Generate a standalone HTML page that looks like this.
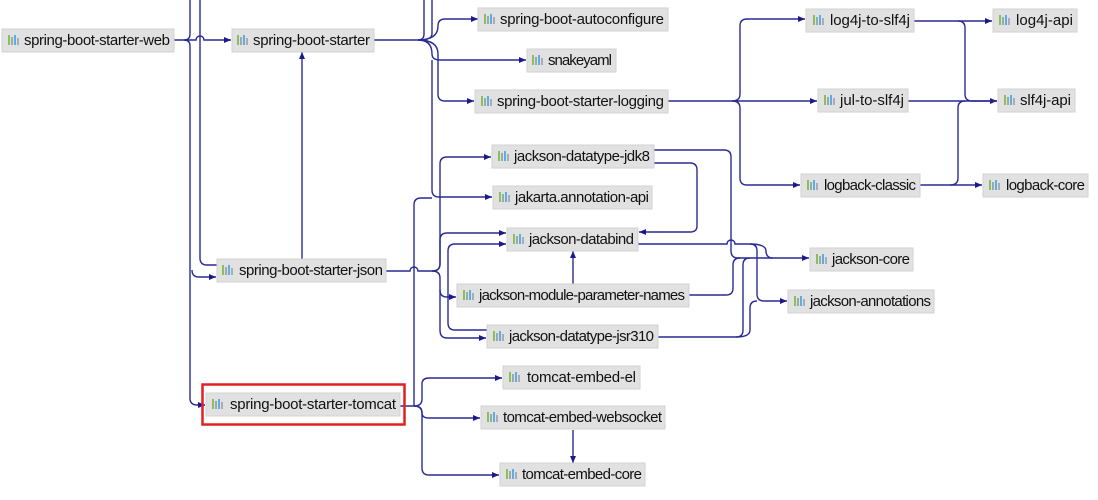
<!DOCTYPE html>
<html><head><meta charset="utf-8"><style>
html,body{margin:0;padding:0;background:#fff;width:1098px;height:500px;overflow:hidden}
text{font-family:"Liberation Sans",sans-serif;font-size:15px;fill:#111}
.e{fill:none;stroke:#2a2a96;stroke-width:1.4}
.b{fill:#e1e1e1;stroke:#d2d2d2;stroke-width:1}
</style></head><body>
<svg width="1098" height="500" xmlns="http://www.w3.org/2000/svg">
<defs>
<marker id="a" markerWidth="8" markerHeight="8" refX="7" refY="4" orient="auto" markerUnits="userSpaceOnUse"><path d="M0,1 L7,4 L0,7 Z" fill="#1a1a8a"/></marker>
<g id="ic"><rect x="0" y="0" width="2" height="10" fill="#8cbf5a"/><rect x="3" y="2" width="2" height="8" fill="#9aa"/><rect x="6" y="0" width="2" height="10" fill="#5aaee0"/><rect x="9" y="3" width="2" height="7" fill="#aab"/></g>
</defs>
<g class="e">
<path d="M174,40 H184 Q190,40 190,34 V0"/>
<path d="M184,40 Q190,40 190,46 V398 Q190,405 197,405 H205" marker-end="url(#a)"/>
<path d="M200,0 V258 Q200,265 207,265 H217"/>
<path d="M184,40 H196 A4,4 0 0 1 204,40 H231" marker-end="url(#a)"/>
<path d="M192,270 Q192,277 199,277 H216" marker-end="url(#a)"/>
<path d="M302,260 V52" marker-end="url(#a)"/>
<path d="M374,40 H418 Q424,40 424,34 V0"/>
<path d="M418,40 Q432,40 432,34 V0"/>
<path d="M418,40 Q438,40 438,26 Q438,19 445,19 H478" marker-end="url(#a)"/>
<path d="M418,40 Q432,40 432,54 Q432,60 440,60 H526" marker-end="url(#a)"/>
<path d="M418,40 Q438,40 438,54 V94 Q438,101 445,101 H474" marker-end="url(#a)"/>
<path d="M432,60 V190 Q432,197 439,197 H492" marker-end="url(#a)"/>
<path d="M668,101 H732 Q740,101 740,94 V26 Q740,19 747,19 H805" marker-end="url(#a)"/>
<path d="M732,101 H817" marker-end="url(#a)"/>
<path d="M732,101 Q740,101 740,108 V178 Q740,185 747,185 H800" marker-end="url(#a)"/>
<path d="M914,21 H992" marker-end="url(#a)"/>
<path d="M958,21 Q965,21 965,28 V94 Q965,101 972,101 H997" marker-end="url(#a)"/>
<path d="M908,101 H997"/>
<path d="M920,185 H982" marker-end="url(#a)"/>
<path d="M950,185 Q958,185 958,178 V108 Q958,101 965,101"/>
<path d="M386,271 H410 A4,4 0 0 1 418,271 H432 Q440,271 440,264 V164 Q440,157 447,157 H491" marker-end="url(#a)"/>
<path d="M432,271 Q440,271 440,264 V240 Q440,233 447,233 H506" marker-end="url(#a)"/>
<path d="M432,271 Q440,271 440,278 V290 Q440,297 447,297 H456" marker-end="url(#a)"/>
<path d="M440,290 V330 Q440,338 447,338 H486" marker-end="url(#a)"/>
<path d="M400,406 H414 Q422,406 422,399 V384 Q422,378 429,378 H502" marker-end="url(#a)"/>
<path d="M414,406 Q422,406 422,413 Q422,418 429,418 H480" marker-end="url(#a)"/>
<path d="M414,406 Q422,406 422,413 V468 Q422,475 429,475 H499" marker-end="url(#a)"/>
<path d="M414,406 V205 Q414,198 421,198 H432"/>
<path d="M573,430 V463" marker-end="url(#a)"/>
<path d="M573,285 V251" marker-end="url(#a)"/>
<path d="M487,330 H455 Q448,330 448,323 V251 Q448,244 455,244 H506" marker-end="url(#a)"/>
<path d="M654,163 H690 Q697,163 697,170 V226 Q697,232 690,232 H639" marker-end="url(#a)"/>
<path d="M654,150 H724 Q731,150 731,157 V251 Q731,258 738,258 H809" marker-end="url(#a)"/>
<path d="M638,244 H727 A4,4 0 0 1 735,244 H750 Q757,244 757,251 V294 Q757,301 764,301 H787" marker-end="url(#a)"/>
<path d="M750,244 Q766,244 766,251 Q766,258 773,258"/>
<path d="M689,295 H726 Q733,295 733,288 V265 Q733,258 740,258"/>
<path d="M658,337 H736 Q743,337 743,330 V265 Q743,258 750,258"/>
<path d="M736,337 Q750,337 750,330 V308 Q750,301 757,301"/>
</g>
<g>
<rect class="b" x="2" y="29" width="172" height="23"/><use href="#ic" x="8" y="35"/><text x="24" y="45" textLength="146">spring-boot-starter-web</text>
<rect class="b" x="232" y="29" width="142" height="23"/><use href="#ic" x="237" y="35"/><text x="253" y="45" textLength="117">spring-boot-starter</text>
<rect class="b" x="478" y="8" width="190" height="23"/><use href="#ic" x="484" y="14"/><text x="500" y="24" textLength="164">spring-boot-autoconfigure</text>
<rect class="b" x="527" y="49" width="89" height="23"/><use href="#ic" x="532" y="55"/><text x="548" y="65" textLength="64">snakeyaml</text>
<rect class="b" x="475" y="90" width="193" height="23"/><use href="#ic" x="481" y="96"/><text x="497" y="106" textLength="167">spring-boot-starter-logging</text>
<rect class="b" x="806" y="9" width="108" height="23"/><use href="#ic" x="813" y="15"/><text x="830" y="25" textLength="80">log4j-to-slf4j</text>
<rect class="b" x="993" y="9" width="84" height="23"/><use href="#ic" x="999" y="15"/><text x="1016" y="25" textLength="57">log4j-api</text>
<rect class="b" x="818" y="89" width="90" height="23"/><use href="#ic" x="824" y="95"/><text x="840" y="105" textLength="64">jul-to-slf4j</text>
<rect class="b" x="998" y="89" width="77" height="23"/><use href="#ic" x="1004" y="95"/><text x="1020" y="105" textLength="51">slf4j-api</text>
<rect class="b" x="801" y="174" width="119" height="23"/><use href="#ic" x="807" y="180"/><text x="824" y="190" textLength="92">logback-classic</text>
<rect class="b" x="983" y="174" width="105" height="23"/><use href="#ic" x="989" y="180"/><text x="1006" y="190" textLength="79">logback-core</text>
<rect class="b" x="492" y="145" width="162" height="23"/><use href="#ic" x="498" y="151"/><text x="514" y="161" textLength="136">jackson-datatype-jdk8</text>
<rect class="b" x="493" y="186" width="159" height="23"/><use href="#ic" x="499" y="192"/><text x="515" y="202" textLength="134">jakarta.annotation-api</text>
<rect class="b" x="507" y="228" width="131" height="23"/><use href="#ic" x="513" y="234"/><text x="529" y="244" textLength="105">jackson-databind</text>
<rect class="b" x="810" y="248" width="103" height="23"/><use href="#ic" x="816" y="254"/><text x="832" y="264" textLength="78">jackson-core</text>
<rect class="b" x="457" y="284" width="232" height="23"/><use href="#ic" x="463" y="290"/><text x="479" y="300" textLength="206">jackson-module-parameter-names</text>
<rect class="b" x="788" y="290" width="146" height="23"/><use href="#ic" x="794" y="296"/><text x="810" y="306" textLength="121">jackson-annotations</text>
<rect class="b" x="487" y="325" width="171" height="23"/><use href="#ic" x="493" y="331"/><text x="509" y="341" textLength="145">jackson-datatype-jsr310</text>
<rect class="b" x="217" y="259" width="169" height="23"/><use href="#ic" x="222" y="265"/><text x="239" y="275" textLength="144">spring-boot-starter-json</text>
<rect class="b" x="206" y="393" width="194" height="23"/><use href="#ic" x="212" y="399"/><text x="230" y="409" textLength="166">spring-boot-starter-tomcat</text>
<rect x="202.5" y="384.5" width="202" height="40" fill="none" stroke="#e02020" stroke-width="2.5"/>
<rect class="b" x="503" y="366" width="137" height="23"/><use href="#ic" x="509" y="372"/><text x="527" y="382" textLength="109">tomcat-embed-el</text>
<rect class="b" x="481" y="406" width="184" height="23"/><use href="#ic" x="487" y="412"/><text x="503" y="422" textLength="159">tomcat-embed-websocket</text>
<rect class="b" x="500" y="463" width="145" height="23"/><use href="#ic" x="506" y="469"/><text x="522" y="479" textLength="120">tomcat-embed-core</text>
</g>
</svg>
</body></html>
